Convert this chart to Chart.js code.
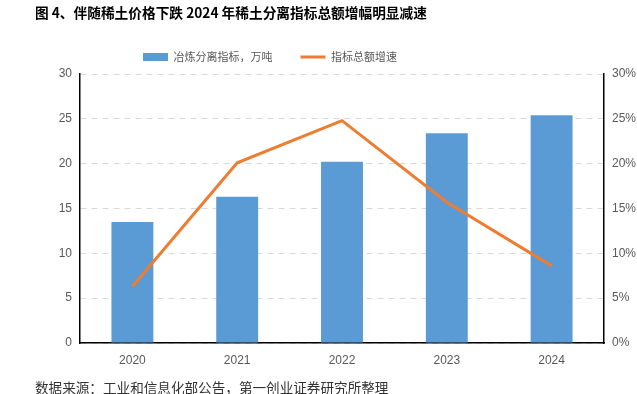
<!DOCTYPE html>
<html>
<head>
<meta charset="utf-8">
<script src="https://cdn.jsdelivr.net/npm/chart.js@4.4.0/dist/chart.umd.min.js"></script>
<style>
  body { margin: 0; background: #fff; }
  #wrap { position: relative; width: 637px; height: 394px; overflow: hidden; }
  #title { position: absolute; left: 35px; top: 2px; font: bold 13.7px "Noto Sans CJK SC", sans-serif; color: #000; white-space: nowrap; }
  #source { position: absolute; left: 35px; top: 377px; font: 13.6px "Noto Sans CJK SC", sans-serif; color: #333; white-space: nowrap; }
</style>
</head>
<body>
<div id="wrap">
  <canvas id="chart" width="637" height="394"></canvas>
  <div id="title">图 4、伴随稀土价格下跌 2024 年稀土分离指标总额增幅明显减速</div>
  <div id="source">数据来源：工业和信息化部公告，第一创业证券研究所整理</div>
</div>
<script>
// values
var years = ["2020", "2021", "2022", "2023", "2024"];
var quota = [13.5, 16.3, 20.2, 23.4, 25.4];      // 冶炼分离指标，万吨
var growth = [6.3, 20.1, 24.8, 15.7, 8.6];        // 指标总额增速, %

var gray = "#595959";
var tickFont = { family: "Liberation Sans", size: 12 };

// legend sits left of centre in the original, and has a fixed height
var legendTweak = {
    id: "legendTweak",
    beforeLayout: function (chart) {
        var l = chart.legend;
        if (l && !l._patched) {
            var orig = l.fit;
            l.fit = function () {
                orig.call(this);
                this.height = 50.5;
            };
            l._patched = true;
        }
    },
    afterLayout: function (chart) {
        var l = chart.legend;
        var w = l.lineWidths[0];
        l.right = 2 * 143 - 28 + w;
        l.width = l.right - l.left;
    }
};

var ctx = document.getElementById("chart").getContext("2d");
window.myChart = new Chart(ctx, {
    type: "bar",
    data: {
        labels: years,
        datasets: [
            {
                type: "line",
                label: "指标总额增速",
                data: growth,
                yAxisID: "y1",
                borderColor: "#ED7D31",
                backgroundColor: "#ED7D31",
                borderWidth: 3,
                pointRadius: 0,
                pointStyle: "line",
                tension: 0,
                order: 0
            },
            {
                label: "冶炼分离指标，万吨",
                data: quota,
                yAxisID: "y",
                backgroundColor: "#5B9BD5",
                pointStyle: "rect",
                categoryPercentage: 1,
                barPercentage: 0.4,
                order: 1
            }
        ]
    },
    options: {
        responsive: false,
        animation: false,
        layout: { padding: { top: 23.5, bottom: 0, left: 0, right: 0 } },
        plugins: {
            tooltip: { enabled: false },
            legend: {
                reverse: true,
                labels: {
                    usePointStyle: true,
                    pointStyleWidth: 25,
                    boxHeight: 8,
                    color: gray,
                    padding: 28,
                    font: { family: "Noto Sans CJK SC", size: 11 }
                }
            }
        },
        scales: {
            x: {
                grid: { display: false, drawTicks: false },
                border: { color: "#000", width: 1.5 },
                ticks: { color: gray, font: tickFont, padding: 10 },
                afterFit: function (s) { s.height = 51; }
            },
            y: {
                position: "left",
                min: 0, max: 30,
                ticks: { stepSize: 5, color: gray, font: tickFont, padding: 8 },
                grid: { color: "#d9d9d9", drawTicks: false },
                border: { color: "#000", width: 1.5, dash: [6, 5] },
                afterFit: function (s) { s.width = 80; }
            },
            y1: {
                position: "right",
                min: 0, max: 30,
                ticks: {
                    stepSize: 5, color: gray, font: tickFont, padding: 8,
                    callback: function (v) { return v + "%"; }
                },
                grid: { display: false, drawTicks: false },
                border: { color: "#000", width: 1.5 },
                afterFit: function (s) { s.width = 33; }
            }
        }
    },
    plugins: [legendTweak]
});
</script>
</body>
</html>
